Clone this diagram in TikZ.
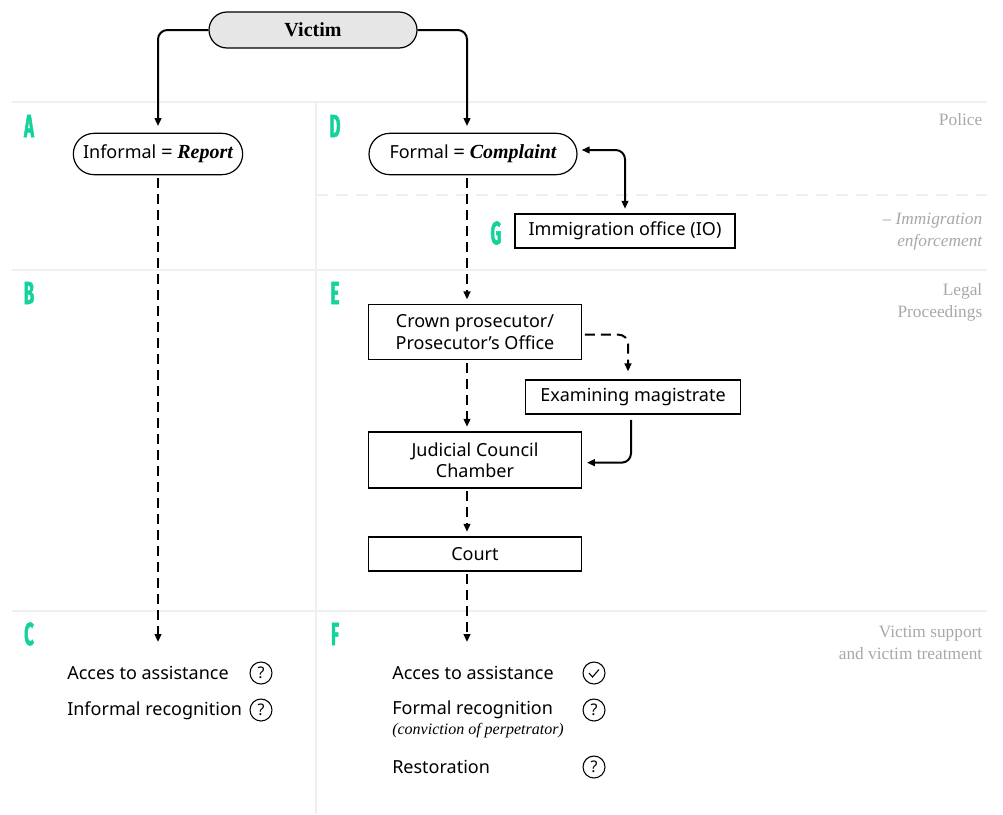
\documentclass[tikz,border=0pt]{standalone}
\usepackage{fontspec}
\usepackage{tikz}
\usetikzlibrary{positioning}
\usetikzlibrary{arrows.meta,shapes.misc}
\setmainfont{Noto Sans}
\newfontfamily\serif{Liberation Serif}
\newfontfamily\tagfont[FakeStretch=0.52,FakeBold=1.6]{Fira Sans}
\definecolor{tagcol}{HTML}{14D29B}
\definecolor{sepcol}{HTML}{EFEFEF}
\definecolor{notecol}{HTML}{A8A8A8}
\definecolor{victimfill}{HTML}{E6E6E6}
\tikzset{
  pill/.style={draw,rounded rectangle,line width=0.9pt,minimum height=31pt,inner xsep=6pt,font=\fontsize{13.5}{15}\selectfont},
  box/.style={draw,rectangle,line width=0.8pt,minimum width=160pt,inner sep=3pt,align=center,font=\fontsize{13.5}{16}\selectfont},
  conn/.style={line width=1.5pt,rounded corners=7pt,-{Triangle[length=6pt,width=5pt]}},
  dconn/.style={conn,dash pattern=on 7.5pt off 4.5pt},
  sep/.style={sepcol,line width=1.5pt},
  tag/.style={tagcol,font=\tagfont\bfseries\fontsize{24}{24}\selectfont},
  note/.style={notecol,anchor=east,align=right,font=\serif\fontsize{13}{16.5}\selectfont},
  item/.style={anchor=west,inner sep=0pt,font=\fontsize{13.5}{16}\selectfont},
  statmark/.style={draw,circle,line width=0.8pt,minimum size=16.5pt,inner sep=0pt,font=\fontsize{12}{12}\selectfont}
}
\begin{document}
\begin{tikzpicture}[x=0.75pt,y=-0.75pt]
 \useasboundingbox (0,0) rectangle (1003,814);
 % lanes
 \draw[sep] (12,102) -- (987,102);
 \draw[sep] (12,270) -- (987,270);
 \draw[sep] (12,611) -- (987,611);
 \draw[sep,dash pattern=on 9pt off 6pt] (316,195) -- (987,195);
 \draw[sep] (316,102) -- (316,814);
 % lane letters
 \node[tag] (tagA) at (29,126) {A};
 \node[tag] (tagB) at (29,293) {B};
 \node[tag] (tagC) at (29,634) {C};
 \node[tag] (tagD) at (335,126) {D};
 \node[tag] (tagE) at (335,293) {E};
 \node[tag] (tagF) at (335,634) {F};
 \node[tag] (tagG) at (496,233) {G};
 % lane names
 \node[note] (police) at (987,120) {Police};
 \node[note] (immenf) at (987,232) {\itshape – Immigration\\\itshape enforcement};
 \node[note] (legal) at (987,302) {Legal\\Proceedings};
 \node[note] (support) at (987,643) {Victim support\\and victim treatment};
 % nodes
 \node[pill,fill=victimfill,minimum width=168pt,minimum height=27pt,font=\serif\bfseries\fontsize{15}{16}\selectfont] (victim) at (313,30) {Victim};
 \node[pill,minimum width=139pt] (informal) at (158,154) {Informal {\serif\bfseries\itshape\fontsize{15}{16}\selectfont = Report}};
 \node[pill,minimum width=168pt] (formal) at (473,154) {Formal {\serif\bfseries\itshape\fontsize{15}{16}\selectfont = Complaint}};
 \node[box,minimum width=165pt,minimum height=25.5pt] (immig) at (625,231) {Immigration office (IO)};
 \node[box,minimum height=41pt] (crown) at (475,332) {Crown prosecutor/\\Prosecutor’s Office};
 \node[box,minimum width=161pt,minimum height=25.5pt] (exam) at (633,397) {Examining magistrate};
 \node[box,minimum height=42pt] (judicial) at (475,460) {Judicial Council\\Chamber};
 \node[box,minimum height=25.5pt] (court) at (475,554) {Court};
 \coordinate (axis) at (467,0);
 \coordinate (leftend) at (158,642);
 \coordinate (rightend) at (467,642);
 % outcomes
 \node[item] (assistL) at (67,673) {Acces to assistance};
 \node[statmark] (assistLm) at (261,673) {?};
 \node[item] (recogL) at (67,711) {Informal recognition};
 \node[statmark] (recogLm) at (261,710) {?};
 \node[item] (assistR) at (392,673) {Acces to assistance};
 \node[statmark] (assistRm) at (594,673) {};
 \draw[line width=0.8pt] (589,673) -- (592.5,677) -- (599,669.5);
 \node[item] (recogR) at (392,710) {Formal recognition};
 \node[item,font=\serif\itshape\fontsize{12}{13}\selectfont] (convict) at (392,731) {(conviction of perpetrator)};
 \node[statmark] (recogRm) at (594,710) {?};
 \node[item] (restore) at (392,767) {Restoration};
 \node[statmark] (restoreRm) at (594,767) {?};
 % connectors
 \draw[conn,shorten >=5pt] (victim.west) -| (informal.north);
 \draw[conn,shorten >=5pt] (victim.east) -| (formal.north -| axis);
 \draw[conn,{Triangle[length=6pt,width=5pt]}-{Triangle[length=6pt,width=5pt]},shorten <=3pt,shorten >=3.5pt] ([yshift=3pt]formal.east) -| (immig.north);
 \draw[dconn,shorten <=2pt] (informal.south) -- (leftend);
 \draw[dconn,shorten <=2pt,shorten >=3.5pt] (formal.south -| axis) -- (crown.north -| axis);
 \draw[dconn,shorten <=2pt,shorten >=6pt] ([yshift=-2pt]crown.east) -| ([xshift=-3.75pt]exam.north);
 \draw[dconn,shorten <=2pt,shorten >=3.5pt] (crown.south -| axis) -- (judicial.north -| axis);
 \draw[conn,shorten <=4pt,shorten >=3.5pt] ([xshift=-1.5pt]exam.south) |- ([yshift=-2pt]judicial.east);
 \draw[dconn,shorten <=2pt,shorten >=3.5pt] (judicial.south -| axis) -- (court.north -| axis);
 \draw[dconn,shorten <=2pt] (court.south -| axis) -- (rightend);
\end{tikzpicture}
\end{document}
